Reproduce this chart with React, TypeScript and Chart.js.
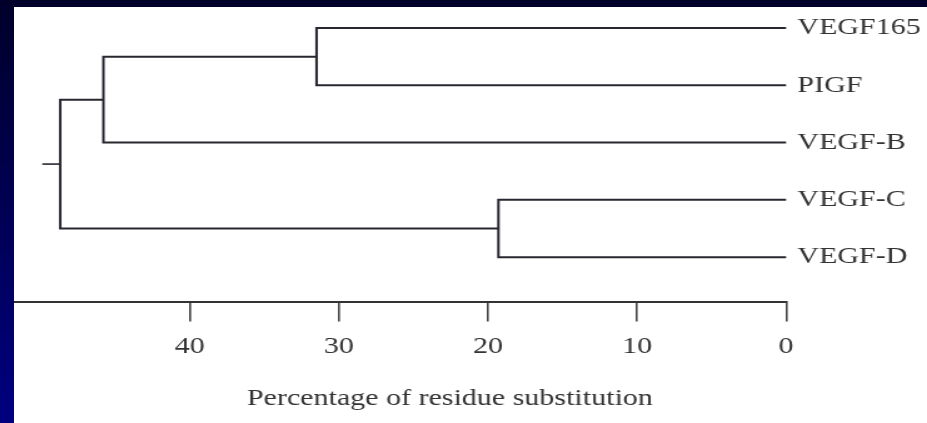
import React, { useEffect, useRef } from "react";
import { Chart, registerables } from "chart.js";

Chart.register(...registerables);

// Leaves of the dendrogram (top to bottom) and their row positions
const leafLabels = ["VEGF165", "PIGF", "VEGF-B", "VEGF-C", "VEGF-D"];
const leafRows = [4, 3, 2, 1, 0];
// Linkage (clusters numbered after the leaves: 5, 6, 7, 8)
const mergeA = [0, 5, 3, 6];
const mergeB = [1, 2, 4, 7];
const mergeHeight = [31.5, 45.8, 19.3, 48.7];
const rootStubEnd = 49.9;
// Axis
const xTickValues = [0, 10, 20, 30, 40];
const xAxisMax = 51.8;
const xAxisTitle = "Percentage of residue substitution";

const STRETCH = 913 / 730;
const FONT = "'Liberation Serif', 'Times New Roman', serif";
const INK = "#2a2630";

function buildPaths() {
  const nodeX: number[] = leafLabels.map(() => 0);
  const nodeY: number[] = leafRows.slice();
  const paths: { x: number; y: number }[][] = [];
  mergeHeight.forEach((h, i) => {
    const a = mergeA[i];
    const b = mergeB[i];
    paths.push([
      { x: nodeX[a], y: nodeY[a] },
      { x: h, y: nodeY[a] },
      { x: h, y: nodeY[b] },
      { x: nodeX[b], y: nodeY[b] },
    ]);
    nodeX.push(h);
    nodeY.push((nodeY[a] + nodeY[b]) / 2);
  });
  const root = nodeX.length - 1;
  paths.push([
    { x: nodeX[root], y: nodeY[root] },
    { x: rootStubEnd, y: nodeY[root] },
  ]);
  return paths;
}

export default function App() {
  const ref = useRef<HTMLCanvasElement | null>(null);

  useEffect(() => {
    if (!ref.current) return;
    const paths = buildPaths();
    const chart = new Chart(ref.current, {
      type: "line",
      data: {
        datasets: paths.map((p, i) => ({
          label: "branch " + i,
          data: p,
          borderColor: INK,
          borderWidth: i === paths.length - 1 ? 1.6 : 2,
          pointRadius: 0,
          tension: 0,
          fill: false,
          clip: false as any,
          borderJoinStyle: "miter" as const,
        })),
      },
      options: {
        responsive: false,
        animation: false,
        layout: { padding: { left: -33, right: 0, top: 0, bottom: 0 } },
        plugins: {
          legend: { display: false },
          tooltip: { enabled: false },
          title: {
            display: true,
            position: "bottom",
            text: xAxisTitle,
            color: "#333",
            font: { family: FONT, size: 24, weight: "normal" },
            padding: { top: 12, bottom: 10 },
          },
        },
        scales: {
          x: {
            type: "linear",
            reverse: true,
            min: 0,
            max: xAxisMax,
            afterBuildTicks: (s: any) => {
              s.ticks = xTickValues.map((v) => ({ value: v }));
            },
            ticks: {
              color: "#333",
              font: { family: FONT, size: 24 },
              padding: 11,
              autoSkip: false,
              maxRotation: 0,
              callback: (v: any) => String(v),
            },
            grid: {
              drawOnChartArea: false,
              drawTicks: true,
              tickLength: 19,
              color: "#444",
              lineWidth: 1.6,
            },
            border: { display: true, color: "#333", width: 2 },
          },
          y: {
            type: "linear",
            position: "right",
            min: -0.79,
            max: 4.116,
            afterBuildTicks: (s: any) => {
              s.ticks = leafRows.map((v) => ({ value: v }));
            },
            afterFit: (s: any) => {
              s.width = 112.7;
            },
            ticks: {
              color: "#333",
              font: { family: FONT, size: 24 },
              padding: 0,
              autoSkip: false,
              callback: (v: any) => leafLabels[leafRows.indexOf(v)] ?? "",
            },
            grid: {
              display: true,
              drawOnChartArea: false,
              drawTicks: true,
              tickLength: 9,
              color: "rgba(0,0,0,0)",
            },
            border: { display: false },
          },
        },
      },
    });
    return () => chart.destroy();
  }, []);

  return (
    <div
      style={{
        position: "fixed",
        left: 0,
        top: 0,
        width: 927,
        height: 423,
        overflow: "hidden",
        background: "linear-gradient(to bottom, #00002a 0%, #000050 45%, #000080 100%)",
      }}
    >
      <div
        style={{
          position: "absolute",
          left: 14,
          top: 7,
          width: 913,
          height: 416,
          background: "#ffffff",
          overflow: "hidden",
        }}
      >
        <div
          style={{
            width: 730,
            height: 416,
            transform: `scaleX(${STRETCH})`,
            transformOrigin: "0 0",
          }}
        >
          <canvas ref={ref} width={730} height={416} style={{ display: "block" }} />
        </div>
      </div>
    </div>
  );
}
